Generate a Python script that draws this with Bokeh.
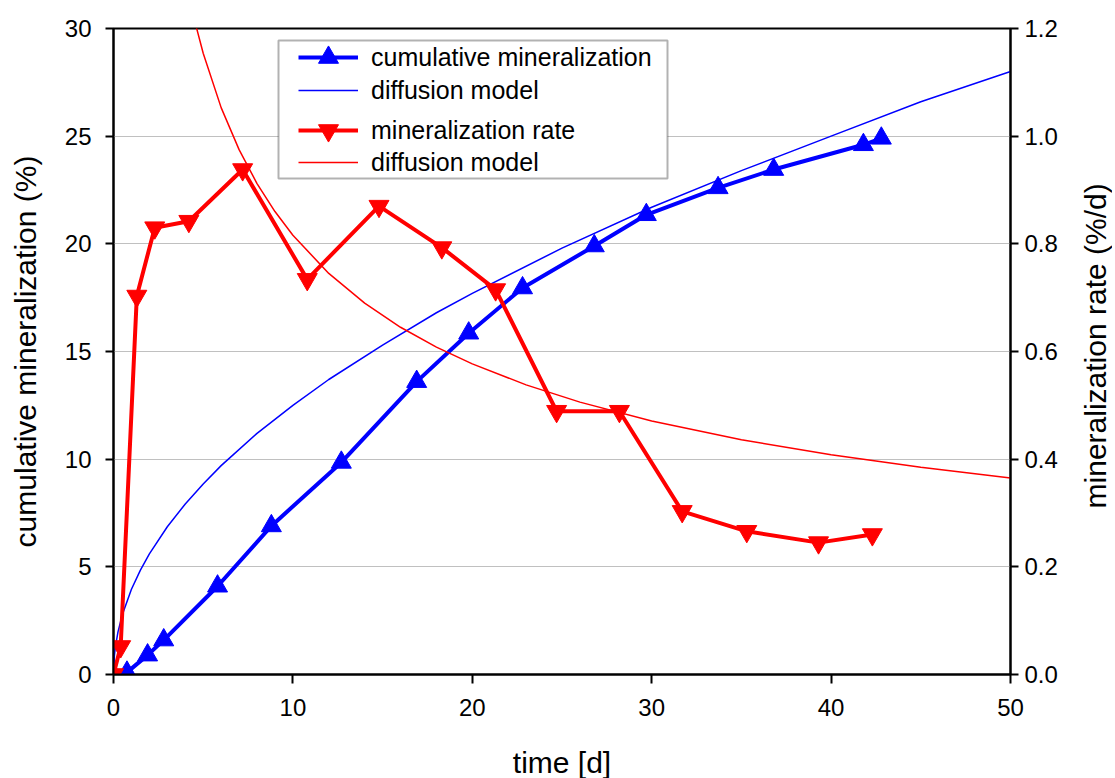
import math
from bokeh.plotting import figure
from bokeh.layouts import row
from bokeh.models import (Range1d, LinearAxis, FixedTicker, Legend, LegendItem,
                          BoxAnnotation, PrintfTickFormatter, Label)
from bokeh.embed import file_html
from bokeh.resources import INLINE

# ---- data ----
time_cum = [0, 0.75, 1.9, 2.8, 5.8, 8.8, 12.7, 16.9, 19.8, 22.8, 26.8, 29.7, 33.7, 36.8, 41.8, 42.8]
cum_min = [0, 0.1, 0.9, 1.6, 4.1, 6.9, 9.85, 13.6, 15.85, 17.95, 19.9, 21.35, 22.6, 23.45, 24.6, 24.9]

time_rate = [0, 0.4, 1.3, 2.3, 4.2, 7.2, 10.8, 14.8, 18.3, 21.3, 24.7, 28.2, 31.7, 35.3, 39.3, 42.3]
min_rate = [0, 0.052, 0.703, 0.83, 0.842, 0.938, 0.734, 0.87, 0.793, 0.715, 0.489, 0.489, 0.303, 0.266, 0.245, 0.26]

time_model_cum = [0, 0.05, 0.1, 0.25, 0.5, 1, 1.5, 2, 3, 4, 5, 6, 8, 10, 12, 15, 18, 20, 25, 30, 35, 40, 45, 50]
model_cum = [0, 0.89, 1.25, 1.98, 2.8, 3.96, 4.85, 5.6, 6.86, 7.92, 8.85, 9.7, 11.2, 12.5, 13.7, 15.3,
             16.8, 17.7, 19.8, 21.7, 23.4, 25.0, 26.6, 28.0]

time_model_rate = [4.4, 5, 6, 7, 8, 9, 10, 12, 14, 16, 18, 20, 23, 26, 30, 35, 40, 45, 50]
model_rate = [1.23, 1.154, 1.053, 0.975, 0.912, 0.86, 0.816, 0.745, 0.69, 0.645, 0.608, 0.577,
              0.538, 0.506, 0.471, 0.436, 0.408, 0.385, 0.365]

x_ticks = [0, 10, 20, 30, 40, 50]
y_ticks = [0, 5, 10, 15, 20, 25, 30]
y2_ticks = [0, 0.2, 0.4, 0.6, 0.8, 1.0, 1.2]

FONT = "Liberation Sans"
BLUE = "#0000ff"
RED = "#ff0000"

p = figure(frame_width=897, frame_height=646, output_backend="svg", toolbar_location=None,
           x_range=Range1d(0, 50), y_range=Range1d(0, 30),
           min_border_left=113, min_border_right=65, min_border_top=28, min_border_bottom=104)
p.extra_y_ranges = {"rate": Range1d(0, 1.2)}

p.outline_line_color = "black"
p.outline_line_width = 2
p.background_fill_color = "white"
p.border_fill_color = "white"

p.xgrid.visible = False
p.ygrid.grid_line_color = "#c0c0c0"
p.ygrid.grid_line_width = 1
p.ygrid.ticker = FixedTicker(ticks=y_ticks)

def style_axis(ax):
    ax.axis_line_color = "black"
    ax.axis_line_width = 2
    ax.major_tick_line_color = "black"
    ax.major_tick_line_width = 2
    ax.major_tick_in = 0
    ax.major_tick_out = 9
    ax.minor_tick_line_color = None
    ax.major_label_text_font = FONT
    ax.major_label_text_font_size = "24px"
    ax.major_label_text_color = "black"
    ax.axis_label_text_font = FONT
    ax.axis_label_text_font_size = "30px"
    ax.axis_label_text_font_style = "normal"
    ax.axis_label_text_color = "black"

xa = p.xaxis[0]
style_axis(xa)
xa.ticker = FixedTicker(ticks=x_ticks)
xa.axis_label = "time [d]"
xa.major_label_standoff = 15
xa.axis_label_standoff = 27

ya = p.yaxis[0]
style_axis(ya)
ya.ticker = FixedTicker(ticks=y_ticks)
ya.axis_label = "cumulative mineralization (%)"
ya.major_tick_out = 8
ya.major_label_standoff = 14
ya.axis_label_standoff = 20

ya2 = LinearAxis(y_range_name="rate")
style_axis(ya2)
ya2.ticker = FixedTicker(ticks=y2_ticks)
ya2.formatter = PrintfTickFormatter(format="%.1f")
ya2.major_tick_out = 8
ya2.major_label_standoff = 6
p.add_layout(ya2, "right")

r_cum_line = p.line(time_cum, cum_min, line_color=BLUE, line_width=4)
r_cum_pts = p.scatter(time_cum, cum_min, marker="triangle", size=20, fill_color=BLUE, line_color=BLUE)
r_mod_cum = p.line(time_model_cum, model_cum, line_color=BLUE, line_width=1.5)
r_rate_line = p.line(time_rate, min_rate, line_color=RED, line_width=4, y_range_name="rate")
r_rate_pts = p.scatter(time_rate, min_rate, marker="inverted_triangle", size=20, fill_color=RED,
                       line_color=RED, y_range_name="rate")
r_mod_rate = p.line(time_model_rate, model_rate, line_color=RED, line_width=1.5, y_range_name="rate")

box = BoxAnnotation(left=278, right=667, top=40, bottom=178,
                    left_units="canvas", right_units="canvas", top_units="canvas", bottom_units="canvas",
                    fill_color="white", fill_alpha=1, line_color="black", line_width=2, level="overlay")
p.add_layout(box)

def make_legend(item, loc):
    lg = Legend(items=[item], location=loc, orientation="vertical")
    lg.border_line_alpha = 0
    lg.background_fill_alpha = 0
    lg.padding = 20
    lg.margin = 0
    lg.spacing = 0
    lg.glyph_width = 60
    lg.glyph_height = 50
    lg.label_height = 29
    lg.label_standoff = 13
    lg.label_text_font = FONT
    lg.label_text_font_size = "25px"
    lg.label_text_color = "black"
    lg.level = "overlay"
    return lg

legend_items = [
    (LegendItem(label="cumulative mineralization", renderers=[r_cum_line, r_cum_pts]), (165, 572)),
    (LegendItem(label="diffusion model", renderers=[r_mod_cum]), (165, 539)),
    (LegendItem(label="mineralization rate", renderers=[r_rate_line, r_rate_pts]), (165, 499)),
    (LegendItem(label="diffusion model", renderers=[r_mod_rate]), (165, 467)),
]
for item, loc in legend_items:
    p.add_layout(make_legend(item, loc))

# narrow companion panel holding the right-axis title (reads bottom-to-top)
p2 = figure(width=37, height=778, output_backend="svg", toolbar_location=None,
            x_range=Range1d(1075, 1112), y_range=Range1d(778, 0),
            x_axis_location=None, y_axis_location=None,
            min_border_left=0, min_border_right=0, min_border_top=0, min_border_bottom=0)
p2.outline_line_color = None
p2.grid.visible = False
p2.background_fill_color = "white"
p2.border_fill_color = "white"
p2.add_layout(Label(x=1095, y=384, angle=math.pi / 2, text="mineralization rate (%/d)",
                    text_font=FONT, text_font_size="30px", text_color="black",
                    text_align="center", text_baseline="middle"))

layout = row(p, p2, spacing=0)
open("out.html", "w").write(file_html(layout, INLINE))
